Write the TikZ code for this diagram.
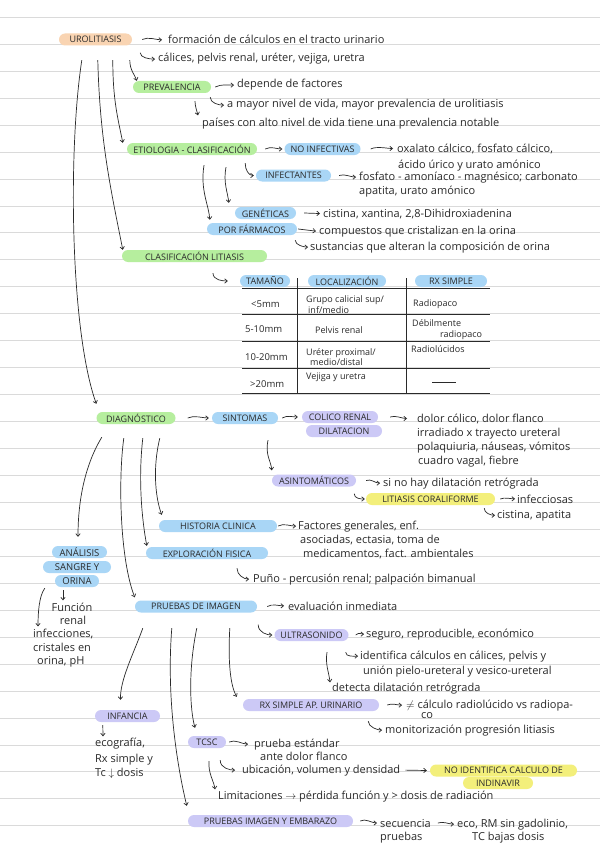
\documentclass[tikz,border=0pt]{standalone}
\usepackage{fontspec}
\setmainfont{Open Sans}
\usetikzlibrary{arrows.meta}
\definecolor{ruleline}{HTML}{DADADA}
\definecolor{hlorange}{HTML}{F9D4B2}
\definecolor{hlgreen}{HTML}{B6EE9E}
\definecolor{hlblue}{HTML}{A9D6F6}
\definecolor{hlpurple}{HTML}{CCC9F6}
\definecolor{hlyellow}{HTML}{F3EF7B}
\definecolor{ink}{HTML}{2A2A2A}
\begin{document}
\begin{tikzpicture}[
    x=1pt,
    y=-1pt,
    >={Straight Barb[length=2.6pt,width=4.4pt]},
    arrowlink/.style={->,ink,line width=0.7pt},
    hlbox/.style={rounded corners=6pt,inner sep=1pt,minimum height=12pt,
      font=\fontsize{9}{10}\selectfont,text=ink},
    orangebox/.style={hlbox,fill=hlorange},
    greenbox/.style={hlbox,fill=hlgreen},
    bluebox/.style={hlbox,fill=hlblue},
    purplebox/.style={hlbox,fill=hlpurple},
    yellowbox/.style={hlbox,fill=hlyellow},
    notetext/.style={anchor=base west,inner sep=0pt,text=ink,
      font=\fontsize{11}{13}\selectfont},
    tablecell/.style={anchor=base west,inner sep=0pt,text=ink,
      font=\fontsize{9}{11}\selectfont},
    tableline/.style={ink,line width=0.8pt}
  ]
    \useasboundingbox (0,0) rectangle (600,848);
    \fill[white] (0,0) rectangle (600,848);

    % ruled paper
    \foreach \k in {0,...,30}
      \draw[ruleline,line width=1pt] (0,{17.35+26.95*\k}) -- (600,{17.35+26.95*\k});

    % urolitiasis
    \node[orangebox,minimum width=73pt] (uro) at (95.5,39.5) {UROLITIASIS};
    \node[notetext] (form) at (168,44) {formación de cálculos en el tracto urinario};
    \node[notetext] (calices) at (158,62) {cálices, pelvis renal, uréter, vejiga, uretra};
    \draw[arrowlink] ([xshift=10pt]uro.east) .. controls +(6,-3) and +(-6,0) .. ([xshift=-6pt]form.west);
    \draw[arrowlink] ([shift={(8,7)}]uro.south east) .. controls +(0,5) and +(-6,0) .. ([xshift=-3pt]calices.west);

    \node[greenbox,minimum width=78pt] (prev) at (172,87) {PREVALENCIA};
    \node[notetext] (depende) at (237,88) {depende de factores};
    \node[notetext] (amayor) at (227,108) {a mayor nivel de vida, mayor prevalencia de urolitiasis};
    \node[notetext] (paises) at (202,126) {países con alto nivel de vida tiene una prevalencia notable};
    \draw[arrowlink] ([xshift=4pt]prev.east) .. controls +(6,-3) and +(-6,0) .. ([xshift=-3pt]depende.west);
    \draw[arrowlink] ([shift={(-1,4)}]prev.south east) .. controls +(0,6) and +(-5,0) .. ([xshift=-3pt]amayor.west);
    \draw[arrowlink] ([shift={(23,8)}]prev.south) .. controls +(0,5) and +(-1,-4) .. ([shift={(-4,-2)}]paises.north west);

    % etiologia
    \node[greenbox,minimum width=130pt] (etio) at (192,149) {ETIOLOGIA - CLASIFICACIÓN};
    \node[bluebox,minimum width=76pt] (noinf) at (322.5,149) {NO INFECTIVAS};
    \node[notetext] (oxal) at (397,152) {oxalato cálcico, fosfato cálcico,};
    \node[notetext] (acido) at (398,168) {ácido úrico y urato amónico};
    \node[bluebox,minimum width=75pt] (infect) at (293.5,175.5) {INFECTANTES};
    \node[notetext] (fosf) at (359,180) {fosfato - amoníaco - magnésico; carbonato};
    \node[notetext] (apat) at (359,194) {apatita, urato amónico};
    \node[bluebox,minimum width=61pt] (genet) at (265.5,213) {GENÉTICAS};
    \node[notetext] (cist) at (323,217) {cistina, xantina, 2,8-Dihidroxiadenina};
    \node[bluebox,minimum width=90pt] (farm) at (252,229) {POR FÁRMACOS};
    \node[notetext] (comp) at (319,234) {compuestos que cristalizan en la orina};
    \node[notetext] (sust) at (310,250) {sustancias que alteran la composición de orina};
    \draw[arrowlink] ([xshift=8pt]etio.east) .. controls +(6,-3) and +(-6,0) .. ([xshift=-2pt]noinf.west);
    \draw[arrowlink] ([xshift=10pt]noinf.east) .. controls +(6,-3) and +(-6,0) .. ([xshift=-4pt]oxal.west);
    \draw[arrowlink] ([shift={(-12,8)}]etio.south east) .. controls +(0,7) and +(-5,0) .. ([xshift=-2pt]infect.west);
    \draw[arrowlink] ([xshift=8pt]infect.east) .. controls +(5,-2) and +(-5,0) .. ([xshift=-3pt]fosf.west);
    \draw[arrowlink] ([shift={(34,12)}]etio.south) .. controls +(-3,15) and +(-1,-10) .. ([shift={(-6,-4)}]genet.north west);
    \draw[arrowlink] ([shift={(12,10)}]etio.south) .. controls +(-4,25) and +(-1,-15) .. ([shift={(3,-3)}]farm.north west);
    \draw[arrowlink] ([xshift=8pt]genet.east) -- ([xshift=-3pt]cist.west);
    \draw[arrowlink] ([xshift=1pt]farm.east) -- ([xshift=-3pt]comp.west);
    \draw[arrowlink] ([shift={(-2,5)}]farm.south east) .. controls +(0,5) and +(-4,0) .. ([xshift=-2pt]sust.west);

    % clasificacion
    \node[greenbox,minimum width=145pt] (clasif) at (194.5,256) {CLASIFICACIÓN LITIASIS};
    \node[bluebox,minimum width=50pt] (tamano) at (265,281) {TAMAÑO};
    \node[bluebox,minimum width=78pt] (locz) at (347,281) {LOCALIZACIÓN};
    \node[bluebox,minimum width=72pt] (rxsimple) at (451,281) {RX SIMPLE};
    \draw[arrowlink] ([shift={(18.5,11)}]clasif.south) .. controls +(0,7) and +(-5,0) .. ([xshift=-12pt]tamano.west);

    \foreach \y in {288,314,341,368,393}
      \draw[tableline] (242,\y) -- (490,\y);
    \foreach \x in {297,406}
      \draw[tableline] (\x,278) -- (\x,393);
    \node[tablecell,font=\fontsize{9.5}{11}\selectfont] (c11) at (251,307) {<5mm};
    \node[tablecell] (c12a) at (306,302) {Grupo calicial sup/};
    \node[tablecell] (c12b) at (308,313) {inf/medio};
    \node[tablecell] (c13) at (413,306) {Radiopaco};
    \node[tablecell,font=\fontsize{9.5}{11}\selectfont] (c21) at (245,332) {5-10mm};
    \node[tablecell] (c22) at (315,333) {Pelvis renal};
    \node[tablecell] (c23a) at (412,326) {Débilmente};
    \node[tablecell] (c23b) at (440,337) {radiopaco};
    \node[tablecell,font=\fontsize{9.5}{11}\selectfont] (c31) at (245,360) {10-20mm};
    \node[tablecell] (c32a) at (306,355) {Uréter proximal/};
    \node[tablecell] (c32b) at (310,365) {medio/distal};
    \node[tablecell] (c33) at (411,352) {Radiolúcidos};
    \node[tablecell,font=\fontsize{9.5}{11}\selectfont] (c41) at (250,387) {>20mm};
    \node[tablecell] (c42) at (306,379) {Vejiga y uretra};
    \draw[tableline] (432,382) -- (456,382);

    % diagnostico
    \node[greenbox,minimum width=79pt] (diag) at (136,418) {DIAGNÓSTICO};
    \draw[arrowlink] ([shift={(23,14.5)}]uro.south west) .. controls (68,150) and (70,330) .. ([shift={(0,-8)}]diag.north west);
    \draw[arrowlink] ([shift={(39,14.5)}]uro.south west) .. controls +(2,80) and +(-12,-60) .. ([xshift=1pt]clasif.north west);
    \draw[arrowlink] ([shift={(54,14.5)}]uro.south west) .. controls +(0,40) and +(-5,-25) .. ([xshift=-4pt]etio.north west);
    \draw[arrowlink] ([shift={(71,14.5)}]uro.south west) .. controls +(0,10) and +(-2,-6) .. ([xshift=4pt]prev.north west);

    \node[bluebox,minimum width=66pt] (sint) at (245,418) {SINTOMAS};
    \node[purplebox,minimum width=76pt] (colico) at (340,417) {COLICO RENAL};
    \node[purplebox,minimum width=76pt] (dilat) at (344,431) {DILATACION};
    \node[notetext] (dolorA) at (417,422) {dolor cólico, dolor flanco};
    \node[notetext] (dolorB) at (417,436) {irradiado x trayecto ureteral};
    \node[notetext] (dolorC) at (417,450) {polaquiuria, náuseas, vómitos};
    \node[notetext] (dolorD) at (418,464) {cuadro vagal, fiebre};
    \draw[arrowlink] ([xshift=12pt]diag.east) .. controls +(6,-3) and +(-6,0) .. ([xshift=-3pt]sint.west);
    \draw[arrowlink] ([xshift=4pt]sint.east) .. controls +(5,-3) and +(-5,0) .. ([xshift=-4pt]colico.west);
    \draw[arrowlink] ([xshift=12pt]colico.east) .. controls +(5,-2) and +(-5,0) .. ([xshift=-10pt]dolorA.west);

    \node[purplebox,minimum width=84pt] (asint) at (314,480.5) {ASINTOMÁTICOS};
    \node[notetext] (sino) at (383,486) {si no hay dilatación retrógrada};
    \node[yellowbox,minimum width=129pt] (coral) at (430.5,499) {LITIASIS CORALIFORME};
    \node[notetext] (infecc) at (517,503) {infecciosas};
    \node[notetext] (cistap) at (497,518) {cistina, apatita};
    \draw[arrowlink] ([shift={(23,16)}]sint.south) .. controls +(-3,15) and +(-1,-10) .. ([shift={(0,-4)}]asint.north west);
    \draw[arrowlink] ([xshift=10pt]asint.east) .. controls +(5,-2) and +(-5,0) .. ([xshift=-3pt]sino.west);
    \draw[arrowlink] ([shift={(-2,7)}]asint.south east) .. controls +(0,5) and +(-4,0) .. ([xshift=-1pt]coral.west);
    \draw[arrowlink] ([xshift=5pt]coral.east) .. controls +(5,-2) and +(-5,0) .. ([xshift=-2pt]infecc.west);
    \draw[arrowlink] ([shift={(-11,3)}]coral.south east) .. controls +(0,5) and +(-4,0) .. ([xshift=-2pt]cistap.west);

    \node[bluebox,minimum width=118pt] (hist) at (218,526) {HISTORIA CLINICA};
    \node[notetext] (factA) at (298,529) {Factores generales, enf.};
    \node[notetext] (factB) at (300,543) {asociadas, ectasia, toma de};
    \node[notetext] (factC) at (303,557) {medicamentos, fact. ambientales};
    \draw[arrowlink] ([xshift=1pt]hist.east) .. controls +(5,-3) and +(-5,0) .. ([xshift=-2pt]factA.west);

    \node[bluebox,minimum width=122pt] (expl) at (207,553) {EXPLORACIÓN FISICA};
    \node[notetext] (puno) at (253,582) {Puño - percusión renal; palpación bimanual};
    \draw[arrowlink] ([shift={(30,9)}]expl.south) .. controls +(0,7) and +(-5,0) .. ([xshift=-4pt]puno.west);

    \node[bluebox,minimum width=55pt,font=\fontsize{9.5}{10}\selectfont] (anal) at (79.5,552) {ANÁLISIS};
    \node[bluebox,minimum width=68pt,font=\fontsize{9.5}{10}\selectfont] (sangre) at (77,567) {SANGRE Y};
    \node[bluebox,minimum width=44pt,font=\fontsize{9.5}{10}\selectfont] (orina) at (77,581) {ORINA};
    \node[notetext,anchor=base] (funcA) at (72,611) {Función};
    \node[notetext,anchor=base] (funcB) at (73,624) {renal};
    \node[notetext] (infA) at (33,637) {infecciones,};
    \node[notetext] (infB) at (33,651) {cristales en};
    \node[notetext] (infC) at (37,664) {orina, pH};
    \draw[arrowlink] ([shift={(-14,3)}]orina.south) -- ([shift={(-9,-2)}]funcA.north);
    \draw[arrowlink] ([shift={(-10,1)}]orina.south west) .. controls +(-6,8) and +(0,-12) .. ([shift={(5,-2)}]infA.north west);

    % pruebas de imagen
    \node[bluebox,minimum width=122pt] (pruebas) at (196,606.5) {PRUEBAS DE IMAGEN};
    \node[notetext] (eval) at (288,610) {evaluación inmediata};
    \draw[arrowlink] ([xshift=10pt]pruebas.east) .. controls +(5,-3) and +(-5,0) .. ([xshift=-4pt]eval.west);

    \draw[arrowlink] ([shift={(5.5,13)}]diag.south west) .. controls (85,465) and (78,500) .. ([shift={(-1.5,-9)}]anal.north);
    \draw[arrowlink] ([shift={(27.5,14)}]diag.south west) .. controls (118,480) and (120,560) .. ([shift={(0,-3)}]pruebas.north west);
    \draw[arrowlink] ([shift={(46.5,14)}]diag.south west) .. controls (138,480) and (142,520) .. ([shift={(1,-1)}]expl.north west);
    \draw[arrowlink] ([shift={(63.5,14)}]diag.south west) .. controls (152,470) and (156,500) .. ([shift={(3,-5)}]hist.north west);

    \node[purplebox,minimum width=74pt] (ultra) at (311.5,635) {ULTRASONIDO};
    \node[notetext] (seguro) at (366,637) {seguro, reproducible, económico};
    \node[notetext] (identA) at (360,659) {identifica cálculos en cálices, pelvis y};
    \node[notetext] (identB) at (363,674) {unión pielo-ureteral y vesico-ureteral};
    \node[notetext] (detecta) at (332,691) {detecta dilatación retrógrada};
    \draw[arrowlink] ([shift={(1,12)}]pruebas.south east) .. controls +(0,8) and +(-5,0) .. ([xshift=-2pt]ultra.west);
    \draw[arrowlink] ([xshift=7pt]ultra.east) .. controls +(4,-3) and +(-4,0) .. ([xshift=-2pt]seguro.west);
    \draw[arrowlink] ([shift={(-3,11)}]ultra.south east) .. controls +(0,5) and +(-4,0) .. ([xshift=-2pt]identA.west);
    \draw[arrowlink] ([shift={(15.5,11)}]ultra.south) .. controls +(-2,12) and +(-1,-10) .. ([shift={(-2,0)}]detecta.north west);

    \node[purplebox,minimum width=136pt] (rxap) at (311,705) {RX SIMPLE AP. URINARIO};
    \node[notetext] (neqA) at (406,708) {$\neq$ cálculo radiolúcido vs radiopa-};
    \node[notetext] (neqB) at (421,718) {co};
    \node[notetext] (monit) at (385,733) {monitorización progresión litiasis};
    \draw[arrowlink] ([xshift=8pt]rxap.east) .. controls +(5,-2) and +(-5,0) .. ([xshift=-4pt]neqA.west);
    \draw[arrowlink] ([shift={(-11,10)}]rxap.south east) .. controls +(0,6) and +(-4,0) .. ([xshift=-3pt]monit.west);

    \node[purplebox,minimum width=65pt] (infancia) at (127.5,716) {INFANCIA};
    \node[notetext] (ecoA) at (95,746) {ecografía,};
    \node[notetext] (ecoB) at (95,762) {Rx simple y};
    \node[notetext] (ecoC) at (95,776) {Tc $\downarrow$ dosis};
    \draw[arrowlink] ([shift={(8,3)}]infancia.south west) -- ([shift={(8,-1)}]ecoA.north west);

    \node[purplebox,minimum width=38pt] (tcsc) at (207,742) {TCSC};
    \node[notetext] (pruebaA) at (254,747) {prueba estándar};
    \node[notetext] (pruebaB) at (260,760) {ante dolor flanco};
    \node[notetext] (ubic) at (242,773) {ubicación, volumen y densidad};
    \node[yellowbox,minimum width=147pt] (noiden) at (503.5,770.5) {NO IDENTIFICA CALCULO DE};
    \node[yellowbox,minimum width=70pt] (indin) at (498,783) {INDINAVIR};
    \node[notetext] (limit) at (218,799) {Limitaciones $\rightarrow$ pérdida función y > dosis de radiación};
    \draw[arrowlink] ([xshift=3pt]tcsc.east) .. controls +(6,-3) and +(-6,0) .. ([xshift=-6pt]pruebaA.west);
    \draw[arrowlink] ([shift={(-6,12)}]tcsc.south east) .. controls +(0,8) and +(-5,0) .. ([xshift=-7pt]ubic.west);
    \draw[arrowlink] ([shift={(2,13)}]tcsc.south) .. controls +(-1,12) and +(-1,-8) .. ([shift={(-3,-1)}]limit.north west);
    \draw[arrowlink] ([xshift=5pt]ubic.east) -- ([xshift=-3pt]noiden.west);

    \node[purplebox,minimum width=165pt] (embar) at (270.5,821) {PRUEBAS IMAGEN Y EMBARAZO};
    \node[notetext] (secuA) at (380,827) {secuencia};
    \node[notetext] (secuB) at (380,840) {pruebas};
    \node[notetext] (ecormA) at (457,827) {eco, RM sin gadolinio,};
    \node[notetext] (ecormB) at (472,840) {TC bajas dosis};
    \draw[arrowlink] ([xshift=7pt]embar.east) .. controls +(5,-3) and +(-5,0) .. ([xshift=-3pt]secuA.west);
    \draw[arrowlink] ([xshift=7pt]secuA.east) .. controls +(5,-2) and +(-5,0) .. ([xshift=-3pt]ecormA.west);

    \draw[arrowlink] ([shift={(8,15.5)}]pruebas.south west) .. controls (133,655) and (120,680) .. ([shift={(-7,-10)}]infancia.north);
    \draw[arrowlink] ([shift={(37,15.5)}]pruebas.south west) .. controls (166,700) and (178,770) .. ([shift={(-1,-9)}]embar.north west);
    \draw[arrowlink] ([shift={(62,15.5)}]pruebas.south west) .. controls (188,670) and (190,710) .. ([shift={(-12,-8)}]tcsc.north);
    \draw[arrowlink] ([shift={(95,15.5)}]pruebas.south west) .. controls (228,660) and (230,685) .. ([shift={(-6,-2)}]rxap.north west);
  \end{tikzpicture}
\end{document}
